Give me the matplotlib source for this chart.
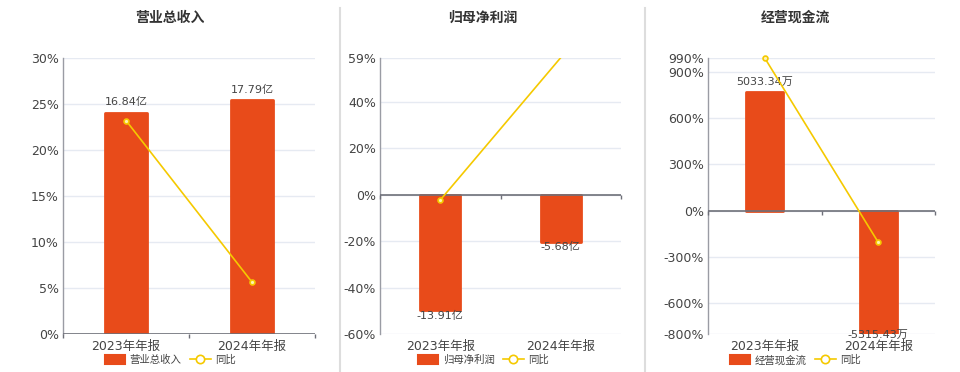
import matplotlib
matplotlib.use("Agg")
import matplotlib.pyplot as plt
import numpy as np
from matplotlib.lines import Line2D
from matplotlib.patches import Patch

plt.rcParams["font.family"] = ["DejaVu Sans", "Noto Sans CJK SC"]

# ---- data ----
periods = ["2023年年报", "2024年年报"]

titles = ["营业总收入", "归母净利润", "经营现金流"]
bar_names = ["营业总收入", "归母净利润", "经营现金流"]

revenue = [16.84, 17.79]          # 亿
revenue_yoy = [23.2, 5.64]        # %
net_profit = [-13.91, -5.68]      # 亿
net_profit_yoy = [-2.24, 59.17]   # %
cashflow = [5033.34, -5315.43]    # 万
cashflow_yoy = [990.0, -205.6]    # %

bar_values = [revenue, net_profit, cashflow]
yoy_values = [revenue_yoy, net_profit_yoy, cashflow_yoy]
units = ["亿", "亿", "万"]

pct_ticks = [
    [0, 5, 10, 15, 20, 25, 30],
    [-60, -40, -20, 0, 20, 40, 59],
    [-800, -600, -300, 0, 300, 600, 900, 990],
]

# ---- layout (pixels of a 960x372 canvas) ----
W, H = 960, 372
axes_px = [(63, 315), (380, 621), (708, 935)]
top_px, bottom_px = 58, 334
bar_limits = [(0, 21.0), (-16.75, 16.5), (-5250, 6492)]
neg_pad = [0, 0, -4]
centers_px = [170, 483, 795]

BAR_COLOR = "#E84B1A"
LINE_COLOR = "#F5C900"
GRID_COLOR = "#E6EAF2"
TEXT_COLOR = "#444444"
AXIS_COLOR = "#6E7079"

fig = plt.figure(figsize=(W / 100, H / 100), dpi=100)

x = np.arange(len(periods))

for i in range(3):
    l, r = axes_px[i]
    rect = [l / W, 1 - bottom_px / H, (r - l) / W, (bottom_px - top_px) / H]
    ax = fig.add_axes(rect)
    lo, hi = pct_ticks[i][0], pct_ticks[i][-1]
    ax.set_ylim(lo, hi)
    ax.set_xlim(-0.5, len(periods) - 0.5)
    ax.set_yticks(pct_ticks[i])
    ax.set_yticklabels([f"{t}%" for t in pct_ticks[i]])
    ax.yaxis.grid(True, color=GRID_COLOR, linewidth=1)
    ax.set_axisbelow(True)
    ax.tick_params(axis="y", length=0, labelsize=9, labelcolor=TEXT_COLOR, pad=3)
    ax.set_xticks(x)
    ax.set_xticklabels(periods)
    ax.tick_params(axis="x", length=0, labelsize=9, labelcolor=TEXT_COLOR, pad=4)
    for s in ["top", "right", "bottom"]:
        ax.spines[s].set_visible(False)
    ax.spines["left"].set_color("#9A9CA4")
    ax.spines["left"].set_linewidth(1)

    # bars on a hidden twin scale
    axb = ax.twinx()
    axb.set_ylim(*bar_limits[i])
    vals = bar_values[i]
    bars = axb.bar(x, vals, width=0.33, color=BAR_COLOR,
                   edgecolor=BAR_COLOR, linewidth=2, joinstyle="round")
    axb.bar_label(bars, labels=[f"{v:.2f}{units[i]}" if v >= 0 else "" for v in vals],
                  padding=4, fontsize=8, color=TEXT_COLOR, annotation_clip=False)
    axb.bar_label(bars, labels=[f"{v:.2f}{units[i]}" if v < 0 else "" for v in vals],
                  padding=neg_pad[i], fontsize=8, color=TEXT_COLOR, annotation_clip=False)
    axb.axis("off")

    # yoy line on a twin sharing the percent scale
    axl = ax.twinx()
    axl.set_ylim(lo, hi)
    axl.set_xlim(-0.5, len(periods) - 0.5)
    axl.axis("off")
    yoy = np.array(yoy_values[i])
    axl.plot(x, yoy, color=LINE_COLOR, linewidth=1.2, zorder=3)
    inside = (yoy >= lo) & (yoy <= hi)
    axl.plot(x[inside], yoy[inside], linestyle="none", marker="o", markersize=3.5,
             markerfacecolor="#FFF3B0", markeredgecolor=LINE_COLOR,
             markeredgewidth=1.2, zorder=4, clip_on=False)

    # category axis line at 0 with boundary ticks pointing down
    axl.axhline(0, color=AXIS_COLOR, linewidth=1.2, zorder=2)
    axl.vlines(np.arange(-0.5, len(periods)), 0, -(hi - lo) * 4 / (bottom_px - top_px),
               color=AXIS_COLOR, linewidth=1, clip_on=False, zorder=2)

    fig.text(centers_px[i] / W, 1 - 18 / H, titles[i], ha="center", va="center",
             fontsize=10, fontweight="bold", color="#333333")

    handles = [
        Patch(facecolor=BAR_COLOR, edgecolor=BAR_COLOR, linewidth=1.5, joinstyle="round"),
        Line2D([0], [0], color=LINE_COLOR, linewidth=1.2, marker="o", markersize=6,
               markerfacecolor="white", markeredgecolor=LINE_COLOR, markeredgewidth=1.2),
    ]
    fig.legend(handles, [bar_names[i], "同比"], loc="center",
               bbox_to_anchor=(centers_px[i] / W, 1 - 360 / H), ncol=2, frameon=False,
               fontsize=7.5, labelcolor=TEXT_COLOR, handlelength=2.0, handleheight=1.0,
               handletextpad=0.4, columnspacing=0.8, borderpad=0)

# panel separators
for xs in (340, 645):
    fig.add_artist(Line2D([xs / W, xs / W], [0, 1 - 8 / H], transform=fig.transFigure,
                          color="#DDDDDD", linewidth=1.5))

fig.savefig("out.png", dpi=100)
